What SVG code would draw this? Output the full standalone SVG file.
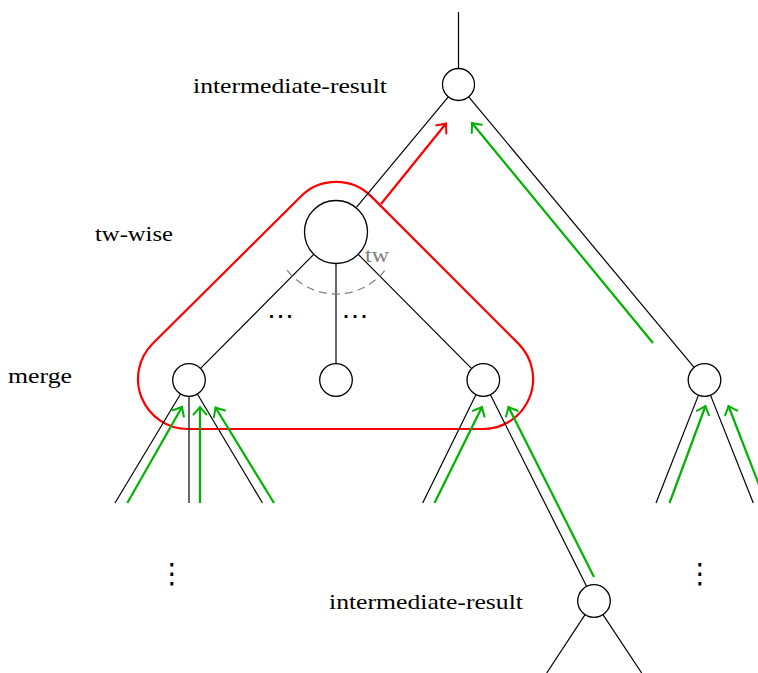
<svg xmlns="http://www.w3.org/2000/svg" width="758" height="673" viewBox="0 0 758 673">
<style>
.edge{stroke:#000;stroke-width:1.2;fill:none}
.node{fill:#fff;stroke:#000;stroke-width:1.3}
.ga{stroke:#00b300;stroke-width:2.2;fill:none;marker-end:url(#ag)}
.ra{stroke:#ff0000;stroke-width:2.2;fill:none;marker-end:url(#ar)}
.lbl{font-family:"Liberation Serif","Times New Roman",serif;font-size:21px;fill:#000}
.dots{font-family:"DejaVu Sans",sans-serif;font-size:24px;fill:#000}
.vdots{font-family:"DejaVu Sans",sans-serif;font-size:28px;fill:#000}
</style>
<defs>
<marker id="ag" markerUnits="userSpaceOnUse" markerWidth="20" markerHeight="20" viewBox="-10 -10 20 20" refX="0" refY="0" orient="auto" overflow="visible">
<path d="M -7.5 -6.5 Q -2 -1.5 0 0 Q -2 1.5 -7.5 6.5" fill="none" stroke="#00b300" stroke-width="2" stroke-linecap="round"/>
</marker>
<marker id="ar" markerUnits="userSpaceOnUse" markerWidth="20" markerHeight="20" viewBox="-10 -10 20 20" refX="0" refY="0" orient="auto" overflow="visible">
<path d="M -7.5 -6.5 Q -2 -1.5 0 0 Q -2 1.5 -7.5 6.5" fill="none" stroke="#ff0000" stroke-width="2" stroke-linecap="round"/>
</marker>
</defs>

<g id="group-outline">
<path d="M 300.8 196.5 L 152.8 343.5 A 50 50 0 0 0 188 429 L 483 429 A 50 50 0 0 0 518.4 343.6 L 371.4 196.6 A 50 50 0 0 0 300.8 196.5 Z" fill="none" stroke="#ff0000" stroke-width="2.2"/>
</g>

<g id="connectors">
<line class="edge" x1="458.5" y1="12" x2="458.5" y2="68.5"/>
<line class="edge" x1="448.3" y1="96.8" x2="356.4" y2="207.4"/>
<line class="edge" x1="468.7" y1="96.8" x2="694.3" y2="367.7"/>
<line class="edge" x1="313.5" y1="254.7" x2="200.3" y2="368.6"/>
<line class="edge" x1="336" y1="264" x2="336" y2="364"/>
<line class="edge" x1="358.5" y1="254.7" x2="471.7" y2="368.6"/>
<line class="edge" x1="180.7" y1="393.7" x2="115" y2="503"/>
<line class="edge" x1="189" y1="396" x2="189" y2="503"/>
<line class="edge" x1="197.2" y1="393.7" x2="262.5" y2="503"/>
<line class="edge" x1="476" y1="394.4" x2="422.7" y2="503"/>
<line class="edge" x1="490.2" y1="394.3" x2="586.8" y2="586.7"/>
<line class="edge" x1="698.6" y1="394.9" x2="656" y2="503"/>
<line class="edge" x1="710.4" y1="394.9" x2="753.3" y2="503"/>
<line class="edge" x1="585.2" y1="614.4" x2="546.7" y2="673"/>
<line class="edge" x1="602.8" y1="614.3" x2="641.7" y2="673"/>
<path d="M 287.1 270.2 A 62 62 0 0 0 384.9 270.2" fill="none" stroke="#808080" stroke-width="1.2" stroke-dasharray="8 5"/>
<line class="ga" x1="127.3" y1="503" x2="182" y2="407"/>
<line class="ga" x1="200" y1="503" x2="200" y2="407"/>
<line class="ga" x1="274" y1="503" x2="215.5" y2="407.5"/>
<line class="ga" x1="434.5" y1="503" x2="482" y2="407"/>
<line class="ga" x1="594" y1="577" x2="508.5" y2="407"/>
<line class="ga" x1="669.5" y1="503" x2="705.5" y2="406"/>
<line class="ga" x1="766" y1="503" x2="728.5" y2="406"/>
<line class="ga" x1="653" y1="343" x2="472" y2="123"/>
<line class="ra" x1="381" y1="204" x2="446" y2="123.5"/>
</g>

<g id="node-top"><circle class="node" cx="458.5" cy="84.5" r="16"/></g>
<g id="node-twwise"><circle class="node" cx="336" cy="232" r="31.5"/></g>
<g id="node-merge-left"><circle class="node" cx="189" cy="380" r="16.3"/></g>
<g id="node-mid"><circle class="node" cx="336" cy="380" r="16.3"/></g>
<g id="node-merge-right"><circle class="node" cx="483.3" cy="380" r="16.3"/></g>
<g id="node-far-right"><circle class="node" cx="704.5" cy="380" r="16.3"/></g>
<g id="node-bottom"><circle class="node" cx="594" cy="601" r="16.3"/></g>

<g id="labels">
<text class="lbl" x="193" y="93" textLength="194" lengthAdjust="spacingAndGlyphs">intermediate-result</text>
<text class="lbl" x="95" y="241" textLength="78" lengthAdjust="spacingAndGlyphs">tw-wise</text>
<text class="lbl" x="8" y="383" textLength="64" lengthAdjust="spacingAndGlyphs">merge</text>
<text class="lbl" x="365" y="262" textLength="24" lengthAdjust="spacingAndGlyphs" style="fill:#808080">tw</text>
<text class="lbl" x="329" y="609" textLength="194" lengthAdjust="spacingAndGlyphs">intermediate-result</text>
<text class="dots" x="267" y="324" textLength="27" lengthAdjust="spacingAndGlyphs">⋯</text>
<text class="dots" x="341.5" y="324" textLength="27" lengthAdjust="spacingAndGlyphs">⋯</text>
<text class="vdots" x="172" y="583" text-anchor="middle">⋮</text>
<text class="vdots" x="700" y="583" text-anchor="middle">⋮</text>
</g>
</svg>
